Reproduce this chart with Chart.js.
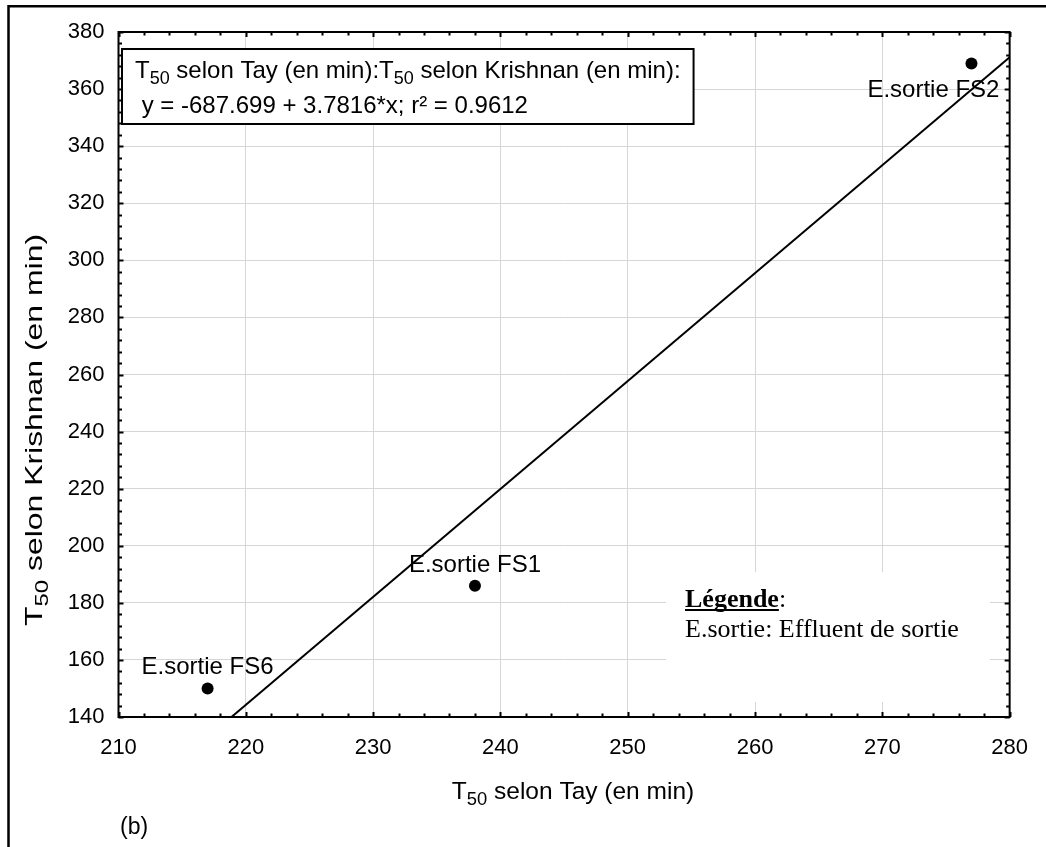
<!DOCTYPE html>
<html>
<head>
<meta charset="utf-8">
<script src="https://cdn.jsdelivr.net/npm/chart.js@4.4.0/dist/chart.umd.min.js"></script>
<style>
  html, body { margin: 0; padding: 0; background: #ffffff; }
  canvas { display: block; }
</style>
</head>
<body>
<canvas id="c" width="1046" height="847"></canvas>
<script>
// Effluent samples: T50 by the Tay method vs T50 by the Krishnan method (minutes)
const sampleNames = ['E.sortie FS6', 'E.sortie FS1', 'E.sortie FS2'];
const tayT50 = [217, 238, 277];
const krishnanT50 = [150, 186, 369];

// Linear fit reported in the equation box
const fitIntercept = -687.699;
const fitSlope = 3.7816;
const fitR2 = 0.9612;

// Axis ticks
const xTicks = [210, 220, 230, 240, 250, 260, 270, 280];
const yTicks = [140, 160, 180, 200, 220, 240, 260, 280, 300, 320, 340, 360, 380];
const xMinorStep = 2;
const yMinorStep = 4;

// Texts (segments flagged sub are drawn as subscripts)
const xTitle = [{ t: 'T' }, { t: '50', sub: true }, { t: ' selon Tay (en min)' }];
const yTitle = [{ t: 'T' }, { t: '50', sub: true }, { t: ' selon Krishnan (en min)' }];
const eqLine1 = [{ t: 'T' }, { t: '50', sub: true }, { t: ' selon Tay (en min):' },
                 { t: 'T' }, { t: '50', sub: true }, { t: ' selon Krishnan (en min):' }];
const eqLine2 = [{ t: ' y = ' + fitIntercept + ' + ' + fitSlope + '*x; r\u00B2 = ' + fitR2 }];
const legendTitle = 'Légende';
const legendLine = 'E.sortie: Effluent de sortie';
const panelTag = '(b)';

const SANS = '"Liberation Sans", Arial, sans-serif';
const SERIF = '"Liberation Serif", "Times New Roman", serif';

const points = tayT50.map((x, i) => ({ x: x, y: krishnanT50[i] }));
const yLow = yTicks[0];
const xHigh = xTicks[xTicks.length - 1];
const fitLine = [
  { x: (yLow - fitIntercept) / fitSlope, y: yLow },
  { x: xHigh, y: fitIntercept + fitSlope * xHigh }
];

function drawSegments(ctx, segs, x, y, size, family, align) {
  const subSize = size * 0.75;
  const widths = segs.map(s => {
    ctx.font = (s.sub ? subSize : size) + 'px ' + family;
    return ctx.measureText(s.t).width;
  });
  const total = widths.reduce((a, b) => a + b, 0);
  let cx = align === 'center' ? x - total / 2 : (align === 'right' ? x - total : x);
  ctx.textAlign = 'left';
  segs.forEach((s, i) => {
    ctx.font = (s.sub ? subSize : size) + 'px ' + family;
    ctx.fillText(s.t, cx, y + (s.sub ? size * 0.25 : 0));
    cx += widths[i];
  });
  return total;
}

const decorations = {
  id: 'decorations',
  beforeDatasetsDraw(chart) {
    const ctx = chart.ctx;
    ctx.save();
    // white panels that sit over the grid
    ctx.fillStyle = '#ffffff';
    ctx.fillRect(666, 572, 324, 130);
    ctx.restore();
  },
  afterDatasetsDraw(chart) {
    const ctx = chart.ctx;
    const xs = chart.scales.x, ys = chart.scales.y;
    const a = chart.chartArea;
    ctx.save();
    ctx.fillStyle = '#000';
    ctx.strokeStyle = '#000';

    // plot frame
    ctx.lineWidth = 2;
    ctx.strokeRect(a.left, a.top, a.right - a.left, a.bottom - a.top);

    // inward ticks on all four sides
    ctx.lineWidth = 2;
    ctx.beginPath();
    for (let v = xTicks[0]; v <= xHigh + 1e-9; v += xMinorStep) {
      const px = Math.round(xs.getPixelForValue(v)) + 0.5;
      const len = (v % 10 === 0) ? 5 : 3.5;
      ctx.moveTo(px, a.bottom); ctx.lineTo(px, a.bottom - len);
      ctx.moveTo(px, a.top); ctx.lineTo(px, a.top + len);
    }
    for (let v = yTicks[0]; v <= yTicks[yTicks.length - 1] + 1e-9; v += yMinorStep) {
      const py = Math.round(ys.getPixelForValue(v)) + 0.5;
      const len = (v % 20 === 0) ? 5 : 3.5;
      ctx.moveTo(a.left, py); ctx.lineTo(a.left + len, py);
      ctx.moveTo(a.right, py); ctx.lineTo(a.right - len, py);
    }
    ctx.stroke();

    // equation box
    ctx.font = '24px ' + SANS;
    ctx.textBaseline = 'alphabetic';
    const boxX = 122, boxY = 49, boxH = 75;
    const measureCtx = ctx;
    const w1 = (function () {
      let w = 0;
      eqLine1.forEach(s => { measureCtx.font = (s.sub ? 18 : 24) + 'px ' + SANS; w += measureCtx.measureText(s.t).width; });
      return w;
    })();
    const boxW = w1 + 26;
    ctx.fillStyle = '#ffffff';
    ctx.fillRect(boxX, boxY, boxW, boxH);
    ctx.lineWidth = 2;
    ctx.strokeRect(boxX, boxY, boxW, boxH);
    ctx.fillStyle = '#000';
    drawSegments(ctx, eqLine1, 135, 78, 24, SANS, 'left');
    drawSegments(ctx, eqLine2, 135, 113, 24, SANS, 'left');

    // point labels
    ctx.font = '24px ' + SANS;
    const meta = chart.getDatasetMeta(1);
    meta.data.forEach((el, i) => {
      const name = sampleNames[i];
      if (el.x > a.right - 80) {
        ctx.textAlign = 'right';
        ctx.fillText(name, el.x + 28, el.y + 34);
      } else {
        ctx.textAlign = 'center';
        ctx.fillText(name, el.x, el.y - 14);
      }
    });

    // legend note
    ctx.textAlign = 'left';
    ctx.font = 'bold 26px ' + SERIF;
    ctx.fillText(legendTitle, 685, 607);
    const lw = ctx.measureText(legendTitle).width;
    ctx.fillRect(685, 609, lw, 2);
    ctx.font = '26px ' + SERIF;
    ctx.fillText(':', 685 + lw, 607);
    ctx.fillText(legendLine, 685, 637);

    // axis titles
    drawSegments(ctx, xTitle, 573, 799, 24.5, SANS, 'center');
    ctx.save();
    ctx.translate(42, 430);
    ctx.rotate(-Math.PI / 2);
    ctx.scale(1.33, 1);
    drawSegments(ctx, yTitle, 0, 0, 24, SANS, 'center');
    ctx.restore();

    // panel tag
    ctx.font = '23px ' + SANS;
    ctx.textAlign = 'left';
    ctx.fillText(panelTag, 120, 834);

    // outer figure frame
    ctx.lineWidth = 2.5;
    ctx.beginPath();
    ctx.moveTo(8.5, 847); ctx.lineTo(8.5, 6.3); ctx.lineTo(1046, 6.3);
    ctx.stroke();
    ctx.restore();
  }
};

const ctx = document.getElementById('c').getContext('2d');
new Chart(ctx, {
  data: {
    datasets: [
      {
        type: 'line',
        data: fitLine,
        borderColor: '#000',
        borderWidth: 2,
        pointRadius: 0,
        fill: false,
        tension: 0
      },
      {
        type: 'scatter',
        data: points,
        pointRadius: 6,
        pointBackgroundColor: '#000',
        pointBorderColor: '#000',
        pointBorderWidth: 0
      }
    ]
  },
  options: {
    responsive: false,
    animation: false,
    devicePixelRatio: 1,
    layout: { autoPadding: false, padding: { left: 0, top: 32, right: 18, bottom: 70 } },
    plugins: { legend: { display: false }, tooltip: { enabled: false } },
    scales: {
      x: {
        type: 'linear',
        min: xTicks[0],
        max: xHigh,
        afterBuildTicks: s => { s.ticks = xTicks.map(v => ({ value: v })); },
        afterFit: s => { s.height = 60; },
        grid: { color: '#d6d6d6', lineWidth: 1, drawTicks: false },
        border: { display: false },
        ticks: { color: '#000', font: { family: SANS, size: 22 }, padding: 18, maxRotation: 0, autoSkip: false }
      },
      y: {
        type: 'linear',
        min: yTicks[0],
        max: yTicks[yTicks.length - 1],
        afterBuildTicks: s => { s.ticks = yTicks.map(v => ({ value: v })); },
        afterFit: s => { s.width = 118.5; },
        grid: { color: '#d6d6d6', lineWidth: 1, drawTicks: false },
        border: { display: false },
        ticks: { color: '#000', font: { family: SANS, size: 22 }, padding: 14, autoSkip: false }
      }
    }
  },
  plugins: [decorations]
});
</script>
</body>
</html>
